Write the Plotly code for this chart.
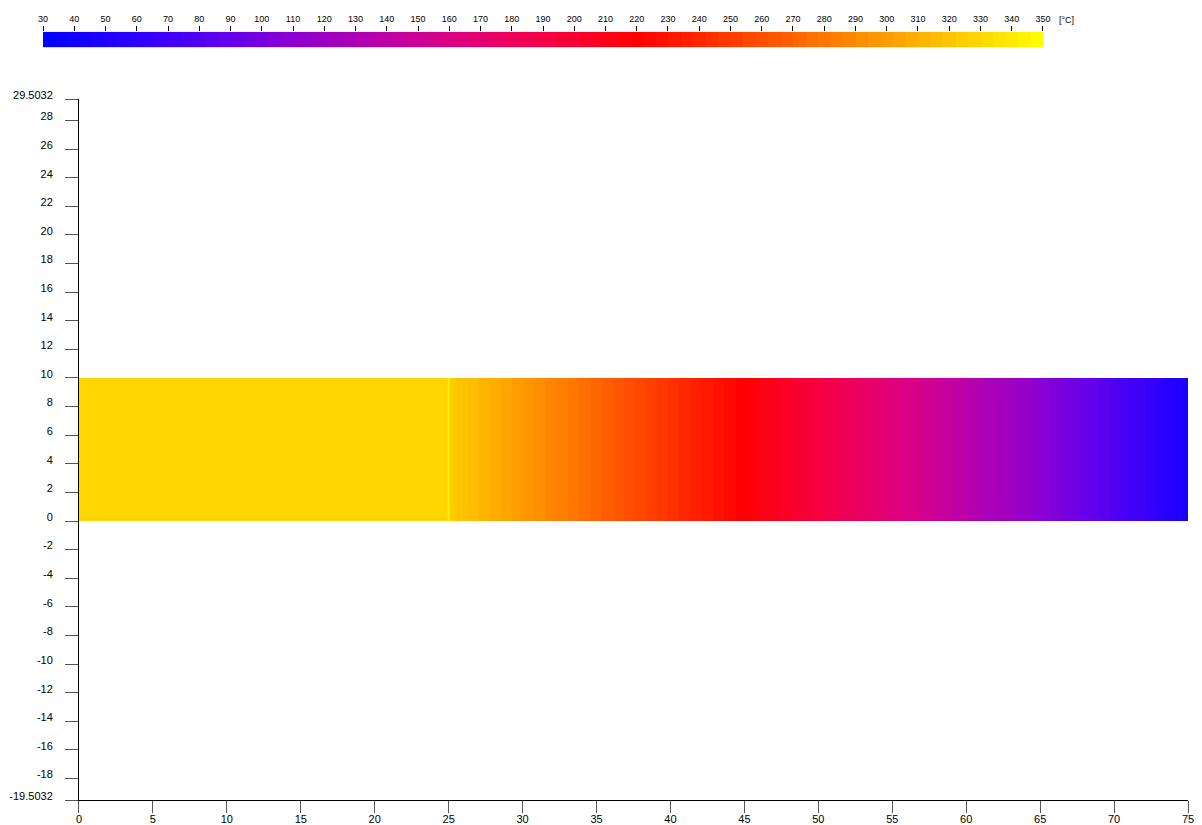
import plotly.graph_objects as go

# Temperature scale shown in the bar at the top [°C]
t_min, t_max, t_step = 30, 350, 4
scale_ticks = list(range(30, 351, 10))

# Colour stops of the temperature scale (value in °C, rgb)
stop_temps = [30, 60, 90, 110, 140, 160, 190, 220, 270, 300, 350]
stop_colors = ["rgb(0,0,255)", "rgb(45,0,255)", "rgb(100,0,235)", "rgb(140,0,210)",
               "rgb(190,0,165)", "rgb(220,0,130)", "rgb(245,0,70)", "rgb(255,0,0)",
               "rgb(255,98,0)", "rgb(255,157,0)", "rgb(255,255,0)"]

# Section geometry [mm]
band_y = [0, 10]
block_x = [0, 25]          # uniform block
block_temp = 329
interface_x = 25
interface_temp = 345

# Temperature along the cooling section
fin_x = [25, 30, 35, 40, 45, 50, 55, 60, 65, 70, 75]
fin_temp = [325, 298, 272, 245, 219, 192, 165, 137, 110, 80, 48]

# Axis ticks
y_ticks = [-19.5032, -18, -16, -14, -12, -10, -8, -6, -4, -2, 0, 2, 4, 6, 8, 10,
           12, 14, 16, 18, 20, 22, 24, 26, 28, 29.5032]
y_ticktext = ["-19.5032"] + [str(v) for v in y_ticks[1:-1]] + ["29.5032"]
x_range = [0, 75]

colorscale = [[(t - t_min) / (t_max - t_min), c] for t, c in zip(stop_temps, stop_colors)]

def color_at(temp):
    for i in range(len(stop_temps) - 1):
        t0, t1 = stop_temps[i], stop_temps[i + 1]
        if t0 <= temp <= t1:
            c0 = [int(v) for v in stop_colors[i][4:-1].split(",")]
            c1 = [int(v) for v in stop_colors[i + 1][4:-1].split(",")]
            f = (temp - t0) / (t1 - t0)
            return "rgb(%d,%d,%d)" % tuple(round(a + (b - a) * f) for a, b in zip(c0, c1))
    return stop_colors[-1]

font = "Liberation Sans, Arial, sans-serif"
fig = go.Figure()

# Uniform block
fig.add_trace(go.Heatmap(
    x=block_x, y=band_y, z=[[block_temp]],
    colorscale=colorscale, zmin=t_min, zmax=t_max, showscale=False,
    hoverinfo="skip"))

# Cooling section, banded every t_step degrees
fig.add_trace(go.Contour(
    x=fin_x, y=band_y, z=[fin_temp, fin_temp],
    colorscale=colorscale, zmin=t_min, zmax=t_max, zauto=False,
    autocontour=False,
    contours=dict(start=t_min, end=t_max, size=t_step, coloring="fill"),
    line=dict(width=0), showscale=False, hoverinfo="skip"))

# Interface line
fig.add_shape(type="line", x0=interface_x, x1=interface_x, y0=band_y[0], y1=band_y[1],
              xref="x", yref="y", line=dict(color=color_at(interface_temp), width=2))

# Stepped colour bar
bar_centers = [t + t_step / 2 for t in range(t_min, t_max, t_step)]
fig.add_trace(go.Heatmap(
    x=bar_centers, y=[0.5], z=[bar_centers],
    colorscale=colorscale, zmin=t_min, zmax=t_max, showscale=False,
    xaxis="x2", yaxis="y2", hoverinfo="skip"))

fig.add_annotation(text="[°C]", x=0.8865, y=1.0, xref="paper", yref="paper",
                   xanchor="left", yanchor="middle", showarrow=False,
                   font=dict(family=font, size=9, color="black"))

fig.update_layout(
    width=1202, height=825,
    margin=dict(l=30, r=14, t=20, b=25, autoexpand=False),
    paper_bgcolor="white", plot_bgcolor="white",
    showlegend=False,
    font=dict(family=font, size=11, color="black"),
    xaxis=dict(domain=[0.04231, 1], range=x_range, dtick=5, tick0=0,
               showgrid=False, zeroline=False, showline=True, linecolor="black",
               linewidth=1, ticks="outside", ticklen=12, tickcolor="#555",
               ticklabelstandoff=-3,
               tickfont=dict(size=11), anchor="y", automargin=False),
    yaxis=dict(domain=[0, 0.8987], range=[y_ticks[0], y_ticks[-1]],
               tickmode="array", tickvals=y_ticks, ticktext=y_ticktext,
               showgrid=False, zeroline=False, showline=True, linecolor="black",
               linewidth=1, ticks="outside", ticklen=13, tickcolor="#555",
               ticklabelstandoff=10, ticklabelshift=-4,
               tickfont=dict(size=11), anchor="x", automargin=False),
    xaxis2=dict(domain=[0.01123, 0.87478], range=[t_min, t_max], side="top",
                tickmode="array", tickvals=scale_ticks, anchor="y2",
                showgrid=False, zeroline=False, showline=False,
                ticks="outside", ticklen=5, tickcolor="black",
                tickfont=dict(size=9), automargin=False),
    yaxis2=dict(domain=[0.965, 0.985], range=[0, 1], visible=False, anchor="x2"),
)

fig.write_html("out.html")
